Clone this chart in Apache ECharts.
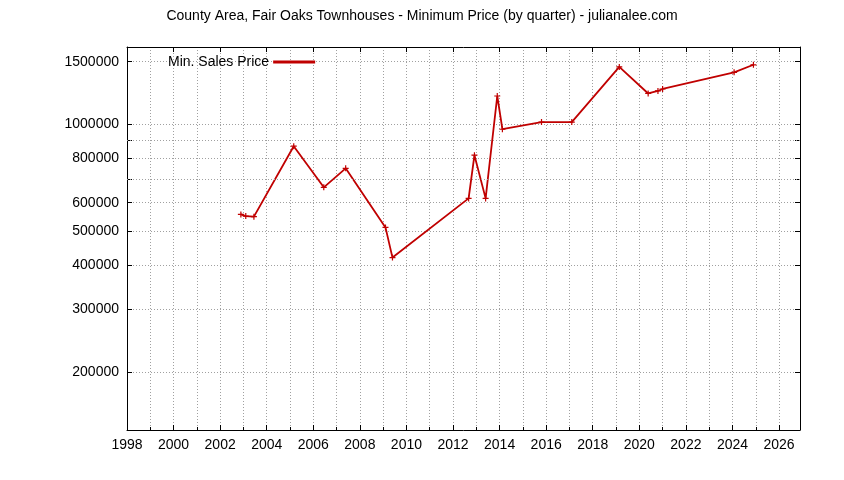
<!DOCTYPE html>
<html><head><meta charset="utf-8">
<script src="https://cdn.jsdelivr.net/npm/echarts@6/dist/echarts.min.js"></script>
<style>html,body{margin:0;padding:0;background:#fff}#c{width:844px;height:480px}</style>
</head><body><div id="c"></div>
<script>
var years = [2002.89, 2003.1, 2003.45, 2005.16, 2006.45, 2007.39, 2009.1, 2009.4, 2012.67, 2012.92,
             2013.4, 2013.9, 2014.12, 2015.8, 2017.1, 2019.14, 2020.38, 2020.8, 2021.0, 2024.07, 2024.9];
var prices = [556000, 550000, 548000, 866000, 663000, 750000, 511000, 420000, 617000, 817000,
              617000, 1200000, 967000, 1013000, 1013000, 1450000, 1220000, 1240000, 1256000, 1400000, 1470000];
var yLabels = [200000, 300000, 400000, 500000, 600000, 800000, 1000000, 1500000];
var yGrid = [200000, 300000, 400000, 500000, 600000, 700000, 800000, 900000, 1000000, 1500000];
var yExtraGrid = [700000, 900000];

var data = years.map(function (y, i) { return [y, prices[i]]; });
var chart = echarts.init(document.getElementById('c'));
var gridLine = { show: true, lineStyle: { color: '#a0a0a0', type: [1, 2], width: 1 } };
var plain = function (v) { return String(v); };
chart.setOption({
    animation: false,
    title: {
        text: 'County Area, Fair Oaks Townhouses - Minimum Price (by quarter) - julianalee.com',
        left: 'center', top: 4,
        textStyle: { fontFamily: 'Liberation Sans', fontSize: 14, fontWeight: 'normal', color: '#000' }
    },
    legend: {
        left: 163, top: 50, align: 'right', itemWidth: 40, itemHeight: 6, icon: 'path://M0,4L40,4L40,5L0,5Z',
        textStyle: { fontFamily: 'Liberation Sans', fontSize: 14, color: '#000' },
        data: ['Min. Sales Price']
    },
    grid: { left: 127, right: 44, top: 47, bottom: 50 },
    xAxis: [{
        type: 'value', min: 1998, max: 2026.9, interval: 2,
        axisLine: { show: true, onZero: false, lineStyle: { color: '#000' } },
        axisTick: { inside: true, lineStyle: { color: '#000' } },
        minorTick: { show: true, splitNumber: 2, length: 3, lineStyle: { color: '#000' } },
        axisLabel: { color: '#000', fontFamily: 'Liberation Sans', fontSize: 14, showMaxLabel: false, formatter: plain },
        splitLine: gridLine,
        minorSplitLine: gridLine
    }, {
        type: 'value', position: 'top', min: 1998, max: 2026.9, interval: 2,
        axisLine: { show: true, onZero: false, lineStyle: { color: '#000' } },
        axisTick: { inside: true, lineStyle: { color: '#000' } },
        axisLabel: { show: false }, splitLine: { show: false }
    }],
    yAxis: [{
        type: 'log', logBase: 10, min: 137000, max: 1650000,
        axisLine: { show: true, lineStyle: { color: '#000' } },
        axisTick: { show: true, inside: true, customValues: yGrid, lineStyle: { color: '#000' } },
        axisLabel: { color: '#000', fontFamily: 'Liberation Sans', fontSize: 14, customValues: yLabels, formatter: plain },
        splitLine: gridLine
    }, {
        type: 'log', logBase: 10, min: 137000, max: 1650000, position: 'right',
        axisLine: { show: true, lineStyle: { color: '#000' } },
        axisTick: { show: true, inside: true, customValues: yGrid, lineStyle: { color: '#000' } },
        axisLabel: { show: false }, splitLine: { show: false }
    }],
    series: [{
        name: 'Min. Sales Price', type: 'line', data: data,
        symbol: 'path://M0,3L6,3M3,0L3,6', symbolSize: 6,
        itemStyle: { color: '#c00000', borderColor: '#c00000', borderWidth: 1.2 },
        lineStyle: { color: '#c00000', width: 1.8 },
        markLine: {
            silent: true, symbol: 'none', label: { show: false },
            lineStyle: { color: '#a0a0a0', type: [1, 2], width: 1 },
            data: yExtraGrid.map(function (v) { return { yAxis: v }; })
        }
    }]
});
</script></body></html>
